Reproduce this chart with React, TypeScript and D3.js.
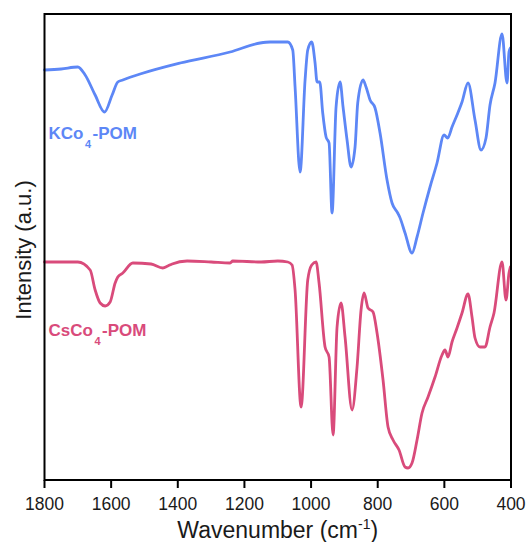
import React from 'react';
import * as d3 from 'd3';

// KCo4-POM spectrum (wavenumber, intensity a.u.)
const kcoWavenumber = [1800, 1750, 1700, 1678, 1648, 1620, 1597, 1580, 1565, 1513, 1393, 1243, 1153, 1123, 1100, 1070, 1055, 1048, 1033, 1018, 1010, 998, 988, 982, 974, 965, 955, 946, 937, 925, 913, 904, 892, 880, 868, 860, 844, 835, 823, 808, 793, 772, 757, 740, 734, 718, 697, 682, 664, 643, 622, 601, 590, 577, 562, 547, 529, 508, 490, 475, 463, 448, 427, 412, 406, 402];
const kcoIntensity = [410, 411, 413, 405, 385, 368, 385, 398, 400, 406, 417, 428, 437, 438, 438, 438, 430, 393, 308, 400, 430, 438, 417, 398, 398, 367, 343, 337, 267, 373, 398, 373, 340, 313, 333, 377, 400, 393, 380, 372, 347, 300, 277, 267, 263, 247, 227, 243, 267, 293, 317, 345, 342, 353, 365, 378, 397, 360, 330, 342, 375, 397, 446, 397, 428, 432];

// CsCo4-POM spectrum
const csWavenumber = [1800, 1700, 1663, 1648, 1633, 1618, 1603, 1588, 1580, 1565, 1535, 1480, 1445, 1430, 1417, 1372, 1300, 1243, 1235, 1150, 1100, 1070, 1057, 1048, 1030, 1010, 998, 985, 976, 958, 946, 934, 922, 910, 898, 877, 862, 850, 841, 829, 814, 802, 784, 769, 754, 736, 718, 709, 697, 682, 667, 649, 628, 607, 598, 589, 577, 562, 547, 529, 517, 508, 493, 478, 463, 451, 427, 415, 406, 402];
const csIntensity = [218, 218, 210, 190, 177, 174, 178, 197, 203, 207, 217, 216, 212, 214, 216, 219, 218, 217, 219, 218, 219, 218, 215, 190, 73, 200, 215, 218, 197, 133, 123, 45, 153, 177, 143, 70, 113, 170, 187, 172, 168, 147, 100, 53, 40, 30, 13, 12, 17, 40, 67, 83, 103, 125, 130, 123, 138, 152, 167, 186, 163, 142, 133, 133, 153, 167, 218, 180, 207, 213];

const xTicks = [1800, 1600, 1400, 1200, 1000, 800, 600, 400];

const series = [
  { name: 'KCo', sub: '4', tail: '-POM', color: '#5d87f6', w: kcoWavenumber, v: kcoIntensity, labelY: 138.5 },
  { name: 'CsCo', sub: '4', tail: '-POM', color: '#d94b7b', w: csWavenumber, v: csIntensity, labelY: 336 },
];

const W = 527;
const H = 542;
const plot = { left: 44.5, right: 511, top: 14, bottom: 480 };

export default function App() {
  const x = d3.scaleLinear().domain([1800, 400]).range([plot.left, plot.right]);
  const y = d3.scaleLinear().domain([0, 466]).range([plot.bottom, plot.top]);

  const line = d3.line<[number, number]>()
    .x(d => x(d[0]))
    .y(d => y(d[1]))
    .curve(d3.curveMonotoneX);

  const font = '"Liberation Sans", Arial, sans-serif';

  return (
    <svg width={W} height={H} style={{ position: 'absolute', left: 0, top: 0 }} fontFamily={font}>
      <rect x={0} y={0} width={W} height={H} fill="#fff" />
      {series.map(s => (
        <path
          key={s.name}
          d={line(s.w.map((w, i) => [w, s.v[i]] as [number, number])) || ''}
          fill="none"
          stroke={s.color}
          strokeWidth={2.8}
          strokeLinejoin="round"
          strokeLinecap="round"
        />
      ))}
      {/* frame */}
      <rect x={plot.left} y={plot.top} width={plot.right - plot.left} height={plot.bottom - plot.top}
        fill="none" stroke="#000" strokeWidth={2} />
      {/* x ticks */}
      {xTicks.map(t => (
        <g key={t} transform={`translate(${x(t)},0)`}>
          <line y1={plot.bottom} y2={plot.bottom + 8} stroke="#000" strokeWidth={2} />
          <text y={510} textAnchor="middle" fontSize={17.5} fill="#1a1a1a">{t}</text>
        </g>
      ))}
      <text x={(plot.left + plot.right) / 2} y={538} textAnchor="middle" fontSize={23} fill="#1a1a1a">
        Wavenumber (cm<tspan dy={-9} fontSize={14}>-1</tspan><tspan dy={9}>)</tspan>
      </text>
      <text transform="translate(31,250) rotate(-90)" textAnchor="middle" fontSize={22} fill="#1a1a1a">
        Intensity (a.u.)
      </text>
      {series.map(s => (
        <text key={s.name + 'l'} x={48.5} y={s.labelY} fontSize={17} fontWeight="bold" fill={s.color}>
          {s.name}<tspan dx={1.5} dy={9} fontSize={11}>{s.sub}</tspan><tspan dx={1.5} dy={-9}>{s.tail}</tspan>
        </text>
      ))}
    </svg>
  );
}
